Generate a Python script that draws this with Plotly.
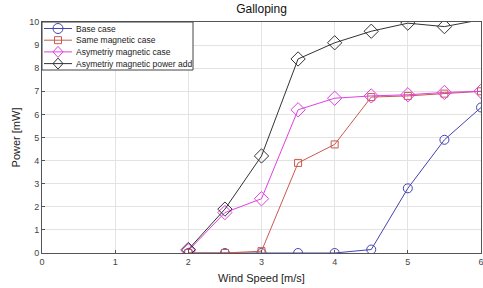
import plotly.graph_objects as go

wind_speed = [2, 2.5, 3, 3.5, 4, 4.5, 5, 5.5, 6]
base_case = [0.0, 0.0, 0.0, 0.0, 0.0, 0.15, 2.8, 4.9, 6.3]
same_magnetic = [0.0, 0.0, 0.08, 3.9, 4.7, 6.75, 6.8, 6.9, 7.0]
asym_magnetic = [0.1, 1.75, 2.35, 6.2, 6.7, 6.8, 6.85, 6.95, 7.0]
asym_power_add = [0.15, 1.9, 4.2, 8.4, 9.1, 9.6, 9.95, 9.8, 10.1]

series_names = ["Base case", "Same magnetic case", "Asymetriy magnetic case",
                "Asymetriy magnetic power add"]
series_values = [base_case, same_magnetic, asym_magnetic, asym_power_add]
colors = ["#4343b3", "#c85a4e", "#e040e0", "#333333"]
symbols = ["circle-open", "square-open", "diamond-open", "diamond-open"]
sizes = [9, 7, 11, 11]

FONT = "Liberation Sans, Arial, sans-serif"
W, H = 483, 288
ML, MR, MT, MB = 42, 2, 22, 35
PW, PH = W - ML - MR, H - MT - MB

fig = go.Figure()
for name, ys, color, sym, size in zip(series_names, series_values, colors, symbols, sizes):
    fig.add_trace(go.Scatter(
        x=wind_speed, y=ys, name=name, mode="lines+markers",
        line=dict(color=color, width=1),
        marker=dict(symbol=sym, size=size, color=color, line=dict(width=1, color=color),
                    opacity=[1 if v <= 10 else 0 for v in ys]),
        cliponaxis=True, showlegend=False,
    ))

axis_common = dict(
    showgrid=True, gridcolor="#e3e3e3", gridwidth=1,
    showline=True, linecolor="#555555", linewidth=1, mirror=True,
    ticks="inside", ticklen=3, tickcolor="#555555",
    tickfont=dict(size=9, color="#444444", family=FONT),
    zeroline=False, automargin=False, ticklabeloverflow="allow",
)

# manual compact legend (MATLAB-style box in the top-left corner)
def px_x(p):
    return (p - ML) / PW

def px_y(p):
    return 1 - (p - MT) / PH

shapes = [dict(type="rect", xref="paper", yref="paper",
               x0=px_x(42), x1=px_x(193), y0=px_y(70), y1=1,
               fillcolor="white", line=dict(color="#444444", width=1), layer="above")]
annotations = []
for i, (name, color, sym) in enumerate(zip(series_names, colors, symbols)):
    yc = px_y(28.5 + 11.7 * i)
    shapes.append(dict(type="line", xref="paper", yref="paper",
                       x0=px_x(44), x1=px_x(72), y0=yc, y1=yc,
                       line=dict(color=color, width=1), layer="above"))
    common = dict(xref="paper", yref="paper", xsizemode="pixel", ysizemode="pixel",
                  xanchor=px_x(58), yanchor=yc, line=dict(color=color, width=1),
                  fillcolor="rgba(0,0,0,0)", layer="above")
    if sym.startswith("circle"):
        shapes.append(dict(type="circle", x0=-5, x1=5, y0=-5, y1=5, **common))
    elif sym.startswith("square"):
        shapes.append(dict(type="rect", x0=-3.5, x1=3.5, y0=-3.5, y1=3.5, **common))
    else:
        shapes.append(dict(type="path", path="M -5 0 L 0 5.5 L 5 0 L 0 -5.5 Z", **common))
    annotations.append(dict(text=name, xref="paper", yref="paper", x=px_x(74), y=yc,
                            xanchor="left", yanchor="middle", showarrow=False,
                            font=dict(size=8.5, color="#222222", family=FONT)))

fig.update_layout(
    width=W, height=H,
    margin=dict(l=ML, r=MR, t=MT, b=MB),
    paper_bgcolor="white", plot_bgcolor="white",
    font=dict(family=FONT, color="#222222"),
    title=dict(text="Galloping", x=(ML + PW / 2) / W, xanchor="center", y=0.985, yanchor="top",
               font=dict(size=12, color="#111111")),
    xaxis=dict(range=[0, 6], dtick=1,
               title=dict(text="Wind Speed [m/s]", font=dict(size=11, color="#222222"), standoff=8),
               **axis_common),
    yaxis=dict(range=[0, 10], dtick=1,
               title=dict(text="Power [mW]", font=dict(size=11, color="#222222"), standoff=6),
               **axis_common),
    shapes=shapes,
    annotations=annotations,
    showlegend=False,
)

fig.write_html("out.html", config={"displayModeBar": False},
               post_script="document.body.style.margin='0';")
